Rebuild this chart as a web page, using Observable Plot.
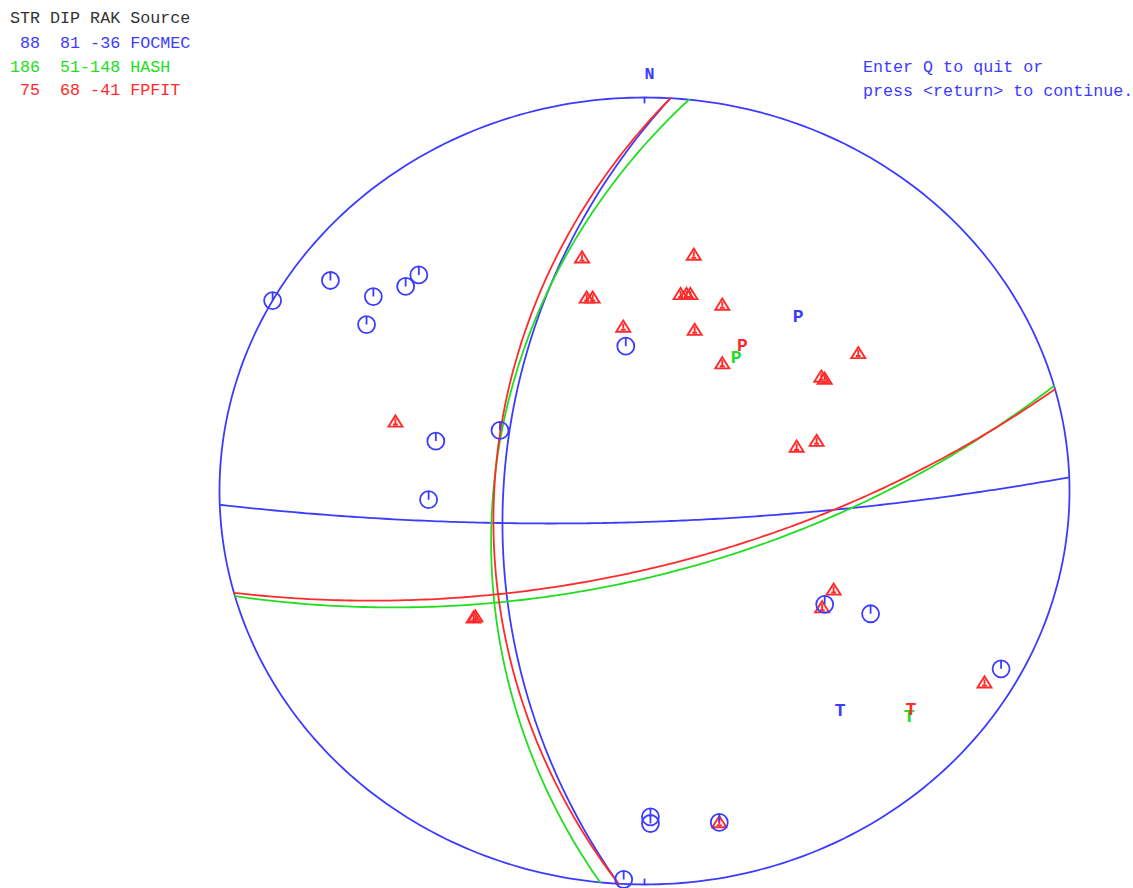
<!DOCTYPE html>
<html><head><meta charset="utf-8">
<script src="https://cdn.jsdelivr.net/npm/d3@7"></script>
<script src="https://cdn.jsdelivr.net/npm/@observablehq/plot@0.6"></script>
<style>
body{margin:0;background:#fff;}
#wrap{position:relative;width:1133px;height:888px;overflow:hidden;}
.t{position:absolute;font-family:"Liberation Mono",monospace;font-size:16.7px;white-space:pre;line-height:1;}
</style></head><body><div id="wrap"></div>
<script>
// ---- data ----
const sources = ["FOCMEC", "HASH", "FPFIT"];
const strikes = [88, 186, 75];
const dips = [81, 51, 68];
const rakes = [-36, -148, -41];
// auxiliary nodal planes
const auxStrikes = [183.5, 74.5, 183.5];
const auxDips = [53.3, 65.7, 51.1];
const colors = ["#3c3cff", "#22dd22", "#ff2a2a"];
const headerLabels = ["STR", "DIP", "RAK", "Source"];
const promptLines = ["Enter Q to quit or", "press <return> to continue."];
// dilatations (blue circles): projected East / North, unit = primitive radius
const dilE = [-0.875, -0.739, -0.638, -0.654, -0.562, -0.531, -0.044, -0.491, -0.508, -0.340, 0.424, 0.532, 0.839, 0.014, 0.014, 0.176, -0.049];
const dilN = [0.484, 0.535, 0.494, 0.423, 0.520, 0.549, 0.368, 0.127, -0.022, 0.154, -0.288, -0.312, -0.452, -0.828, -0.845, -0.842, -0.987];
// compressions (red triangles)
const compE = [-0.147, 0.116, -0.136, -0.122, 0.085, 0.099, 0.108, 0.183, -0.050, 0.118, 0.183, 0.503, 0.416, 0.424, 0.358, 0.405, -0.586, -0.402, -0.398, 0.445, 0.418, 0.800, 0.176];
const compN = [0.594, 0.601, 0.492, 0.492, 0.501, 0.501, 0.501, 0.474, 0.418, 0.410, 0.325, 0.351, 0.291, 0.286, 0.113, 0.128, 0.177, -0.321, -0.318, -0.250, -0.295, -0.486, -0.841];

// ---- geometry (lower-hemisphere stereographic) ----
const D = Math.PI / 180;
function proj(vN, vE, vD) {
  if (vD < -1e-9) { vN = -vN; vE = -vE; vD = -vD; }
  const pl = Math.asin(Math.max(-1, Math.min(1, vD)));
  const tr = Math.atan2(vE, vN);
  const r = Math.tan((Math.PI / 2 - pl) / 2);
  return {x: r * Math.sin(tr), y: r * Math.cos(tr)};
}
function planeCurve(str, dip, src) {
  const s = str * D, d = dip * D;
  const sv = [Math.cos(s), Math.sin(s), 0];
  const dv = [Math.cos(d) * Math.cos(s + Math.PI / 2), Math.cos(d) * Math.sin(s + Math.PI / 2), Math.sin(d)];
  const pts = [];
  for (let t = 0; t <= 180; t += 1) {
    const c = Math.cos(t * D), si = Math.sin(t * D);
    const p = proj(c * sv[0] + si * dv[0], c * sv[1] + si * dv[1], c * sv[2] + si * dv[2]);
    pts.push({...p, src});
  }
  return pts;
}
function axesOf(str, dip, rake) {
  const f = str * D, d = dip * D, l = rake * D;
  const n = [-Math.sin(d) * Math.sin(f), Math.sin(d) * Math.cos(f), -Math.cos(d)];
  const u = [Math.cos(l) * Math.cos(f) + Math.sin(l) * Math.cos(d) * Math.sin(f),
             Math.cos(l) * Math.sin(f) - Math.sin(l) * Math.cos(d) * Math.cos(f),
             -Math.sin(l) * Math.sin(d)];
  const P = [0, 1, 2].map(i => (n[i] - u[i]) / Math.SQRT2);
  const T = [0, 1, 2].map(i => (n[i] + u[i]) / Math.SQRT2);
  return {P: proj(...P), T: proj(...T)};
}

const planes = [];
const axesPT = [];
sources.forEach((src, i) => {
  const m = axesOf(strikes[i], dips[i], rakes[i]);
  planes.push(planeCurve(strikes[i], dips[i], src));
  planes.push(planeCurve(auxStrikes[i], auxDips[i], src));
  axesPT.push({...m.P, label: "P", src});
  axesPT.push({...m.T, label: "T", src});
});
const colorOf = Object.fromEntries(sources.map((s, i) => [s, colors[i]]));

const boundary = d3.range(0, 361, 1).map(a => ({x: Math.sin(a * D), y: Math.cos(a * D)}));
const dil = dilE.map((e, i) => ({x: e, y: dilN[i]}));
const comp = compE.map((e, i) => ({x: e, y: compN[i]}));

// custom symbols
const circleTick = {draw(ctx, size) {
  const r = Math.sqrt(size / Math.PI);
  ctx.moveTo(r, 0); ctx.arc(0, 0, r, 0, 2 * Math.PI);
  ctx.moveTo(0, -r); ctx.lineTo(0, 0);
}};
const triTick = {draw(ctx, size) {
  const r = Math.sqrt(size / Math.PI);
  ctx.moveTo(0, -r * 0.85); ctx.lineTo(r, r * 0.75); ctx.lineTo(-r, r * 0.75); ctx.closePath();
  ctx.moveTo(0, -r * 0.4); ctx.lineTo(0, r * 0.3);
  ctx.moveTo(-r * 0.35, r * 0.45); ctx.lineTo(r * 0.35, r * 0.45);
}};

const blue = colors[0], red = colors[2];
const chart = Plot.plot({
  width: 1133, height: 888,
  marginLeft: 219, marginRight: 64, marginTop: 97, marginBottom: 4,
  x: {domain: [-1, 1], axis: null},
  y: {domain: [-1, 1], axis: null},
  style: {background: "white", fontFamily: "'Liberation Mono', monospace"},
  marks: [
    Plot.line(boundary, {x: "x", y: "y", stroke: blue, strokeWidth: 1.8}),
    Plot.link([{x: 0, y: 1}, {x: 0, y: -1}], {x1: "x", y1: "y", x2: "x", y2: d => d.y * 0.985, stroke: blue, strokeWidth: 1.8}),
    Plot.text([{x: 0, y: 1}], {x: "x", y: "y", text: () => "N", dy: -24, dx: 5, fill: blue, fontSize: 16.7, fontWeight: "bold"}),
    ...planes.map(pts => Plot.line(pts, {x: "x", y: "y", stroke: d => colorOf[d.src], strokeWidth: 1.8})),
    Plot.dot(comp, {x: "x", y: "y", symbol: triTick, r: 7, stroke: red, fill: "none", strokeWidth: 1.9}),
    Plot.dot(dil, {x: "x", y: "y", symbol: circleTick, r: 8.5, stroke: blue, fill: "none", strokeWidth: 1.8}),
    Plot.text(axesPT, {x: "x", y: "y", text: "label", fill: d => colorOf[d.src], lineAnchor: "bottom", fontSize: 18, fontWeight: "bold"})
  ]
});
const wrap = document.getElementById("wrap");
wrap.appendChild(chart);

function addText(txt, left, top, color) {
  const el = document.createElement("div");
  el.className = "t"; el.textContent = txt; el.style.left = left + "px"; el.style.top = top + "px"; el.style.color = color;
  wrap.appendChild(el);
}
const pad = (v, w) => String(v).padStart(w);
addText(headerLabels.join(" "), 10, 11, "#333");
sources.forEach((s, i) => {
  addText(pad(strikes[i], 3) + pad(dips[i], 4) + pad(rakes[i], 4) + " " + s, 10, 36 + i * 23.5, colors[i]);
});
promptLines.forEach((l, i) => addText(l, 863, 60 + i * 24, blue));
</script></body></html>
